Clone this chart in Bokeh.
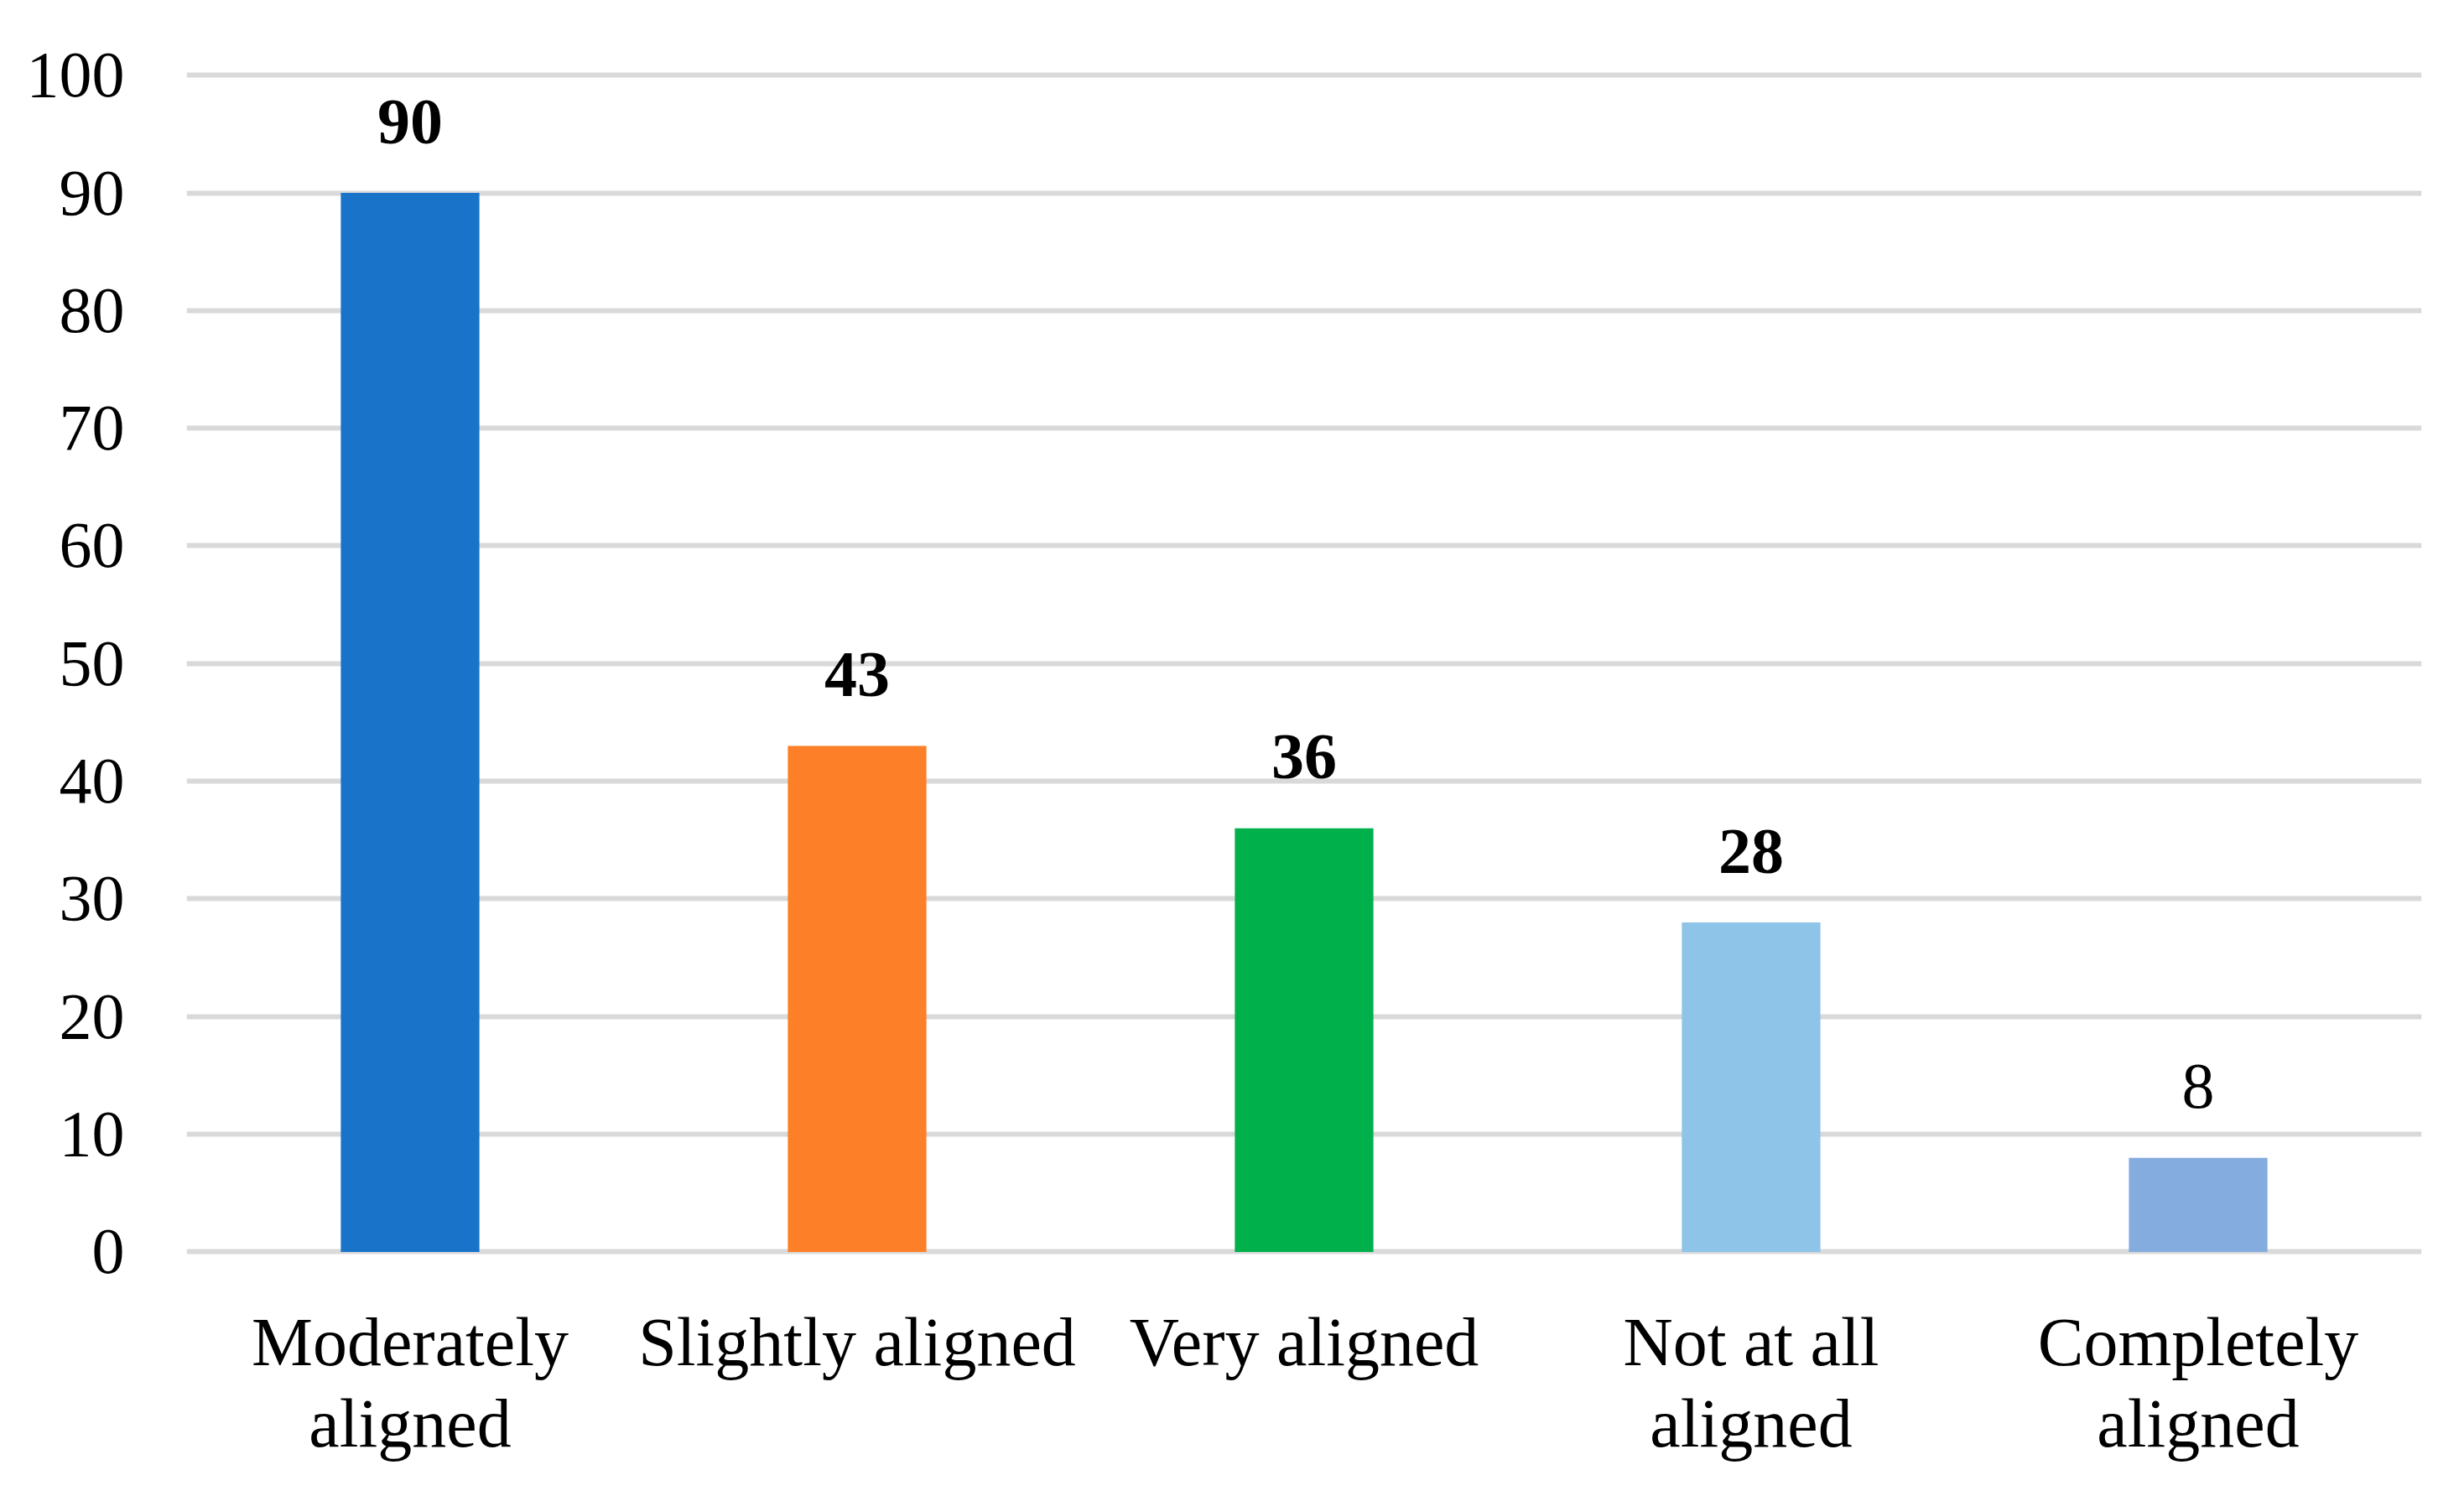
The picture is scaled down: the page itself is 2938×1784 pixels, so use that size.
from bokeh.plotting import figure
from bokeh.models import ColumnDataSource, Range1d, FactorRange
from bokeh.core.properties import value
from bokeh.embed import file_html
from bokeh.resources import INLINE

categories = ["Moderately aligned", "Slightly aligned", "Very aligned", "Not at all aligned", "Completely aligned"]
label_line1 = ["Moderately", "Slightly aligned", "Very aligned", "Not at all", "Completely"]
label_line2 = ["aligned", "", "", "aligned", "aligned"]
counts = [90, 43, 36, 28, 8]
bar_colors = ["#1973C9", "#FD7F28", "#00B04B", "#8EC4E8", "#84ACDE"]
label_weights = ["bold", "bold", "bold", "bold", "normal"]
y_ticks = [0, 10, 20, 30, 40, 50, 60, 70, 80, 90, 100]

FONT = "Liberation Serif"
FS = "78px"
FS_CAT = "82px"

src = ColumnDataSource(dict(cat=categories, val=counts, color=bar_colors,
                            lab=[str(v) for v in counts], wt=label_weights,
                            l1=label_line1, l2=label_line2, zero=[0] * len(counts)))

# frame extends below zero so the category labels (drawn as text) stay inside it
p = figure(width=2920, height=1768, output_backend="svg", toolbar_location=None,
           x_range=FactorRange(factors=categories, range_padding=0),
           y_range=Range1d(-19, 100.3),
           min_border_left=222, min_border_right=33, min_border_top=85, min_border_bottom=9)
p.outline_line_color = None
p.background_fill_color = "white"
p.border_fill_color = "white"

p.vbar(x="cat", top="val", width=0.31, color="color", source=src, line_color=None)
p.text(x="cat", y="val", text="lab", source=src, text_align="center", text_baseline="middle",
       y_offset=-85, text_font=value(FONT), text_font_size=FS, text_font_style="wt", text_color="black")

for col, off in (("l1", 108), ("l2", 205)):
    p.text(x="cat", y="zero", text=col, source=src, text_align="center", text_baseline="middle",
           y_offset=off, text_font=value(FONT), text_font_size=FS_CAT, text_color="black")

p.xgrid.grid_line_color = None
p.ygrid.grid_line_color = "#D9D9D9"
p.ygrid.grid_line_width = 6
p.ygrid.ticker = y_ticks

p.yaxis.ticker = y_ticks
p.yaxis.axis_line_color = None
p.yaxis.major_tick_line_color = None
p.yaxis.minor_tick_line_color = None
p.yaxis.major_label_text_font = FONT
p.yaxis.major_label_text_font_size = FS
p.yaxis.major_label_text_color = "black"
p.yaxis.major_label_standoff = 68

p.xaxis.visible = False

open("out.html", "w").write(file_html(p, INLINE))
